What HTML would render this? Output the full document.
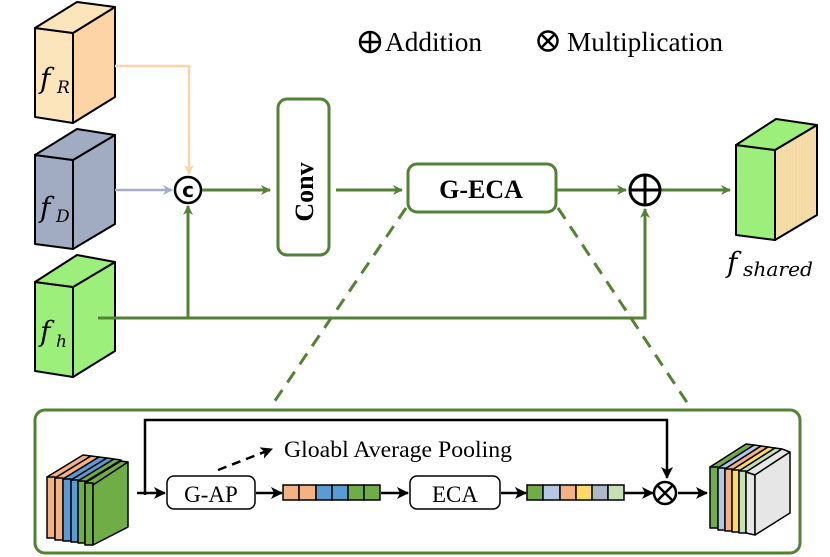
<!DOCTYPE html>
<html><head><meta charset="utf-8"><style>body{margin:0;background:#fff}svg{display:block}</style></head><body>
<svg width="830" height="557" viewBox="0 0 830 557" xmlns="http://www.w3.org/2000/svg">
<defs>
<marker id="ag" markerWidth="10" markerHeight="10" refX="9" refY="5" orient="auto" markerUnits="userSpaceOnUse"><path d="M0,0 L10,5 L0,10 L3,5z" fill="#548235"/></marker>
<marker id="ao" markerWidth="10" markerHeight="10" refX="9" refY="5" orient="auto" markerUnits="userSpaceOnUse"><path d="M0,0 L10,5 L0,10 L3,5z" fill="#fdd4a8"/></marker>
<marker id="ab" markerWidth="10" markerHeight="10" refX="9" refY="5" orient="auto" markerUnits="userSpaceOnUse"><path d="M0,0 L10,5 L0,10 L3,5z" fill="#a3afc6"/></marker>
<marker id="ak" markerWidth="12" markerHeight="12" refX="11" refY="6" orient="auto" markerUnits="userSpaceOnUse"><path d="M0,0 L12,6 L0,12 L3,6z" fill="#000"/></marker>
<pattern id="wood" width="6" height="6" patternUnits="userSpaceOnUse"><rect width="6" height="6" fill="#f7dfae"/><path d="M1,0V6M4,0V6" stroke="#efd39b" stroke-width="1"/></pattern>
</defs>
<g font-family="Liberation Serif, serif">
<!-- legend -->
<circle cx="370" cy="42" r="10" fill="none" stroke="#000" stroke-width="2.5"/><path d="M360,42H380M370,32V52" stroke="#000" stroke-width="2.5"/>
<text x="385" y="51" font-size="27" textLength="97" lengthAdjust="spacingAndGlyphs">Addition</text>
<circle cx="548" cy="41" r="9.5" fill="none" stroke="#000" stroke-width="2.5"/><path d="M541,34L555,48M555,34L541,48" stroke="#000" stroke-width="2.5"/>
<text x="567" y="51" font-size="27" textLength="156" lengthAdjust="spacingAndGlyphs">Multiplication</text>

<!-- cubes -->
<g stroke="#000" stroke-width="2" stroke-linejoin="round">
<path d="M35,28L73,33L73,123L35,117Z" fill="#fde5bb"/><path d="M73,33L115,7L115,97L73,123Z" fill="#fdd4a6"/><path d="M35,28L77,2L115,7L73,33Z" fill="#fde5bb"/>
<path d="M35,155L73,160L73,249L35,244Z" fill="#a1abc2"/><path d="M73,160L115,135L115,224L73,249Z" fill="#a1abc2"/><path d="M35,155L77,129L115,135L73,160Z" fill="#a1abc2"/>
<path d="M35,282L73,287L73,377L35,371Z" fill="#9cef7b"/><path d="M73,287L115,262L115,351L73,377Z" fill="#9cef7b"/><path d="M35,282L77,255L115,262L73,287Z" fill="#9cef7b"/>
<path d="M736,145L775,150L775,240L736,235Z" fill="#9cef7b"/><path d="M775,150L817,125L817,215L775,240Z" fill="url(#wood)"/><path d="M736,145L776,119L817,125L775,150Z" fill="#9cef7b"/>
</g>
<g font-style="italic" font-family="DejaVu Serif, serif">
<text x="40" y="88" font-size="28">f</text><text x="57" y="93" font-size="17">R</text>
<text x="40" y="217" font-size="28">f</text><text x="56" y="222" font-size="17">D</text>
<text x="40" y="341" font-size="28">f</text><text x="56" y="347" font-size="17">h</text>
<text x="727" y="272" font-size="28">f</text><text x="743" y="276" font-size="20" textLength="70" lengthAdjust="spacingAndGlyphs">shared</text>
</g>

<!-- top connectors -->
<path d="M115,66H189V174" fill="none" stroke="#fdd4a8" stroke-width="2.5" marker-end="url(#ao)"/>
<path d="M115,190H172" stroke="#a3afc6" stroke-width="2.5" marker-end="url(#ab)"/>
<circle cx="188" cy="190" r="13" fill="#fff" stroke="#000" stroke-width="2.5"/>
<text x="188" y="197" font-size="20" font-family="DejaVu Sans, sans-serif" font-weight="bold" text-anchor="middle">c</text>
<g stroke="#548235" stroke-width="3" fill="none">
<path d="M98,318H645V209" marker-end="url(#ag)"/>
<path d="M188,318V206" marker-end="url(#ag)"/>
<path d="M202,190H270" marker-end="url(#ag)"/>
<path d="M336,190H402" marker-end="url(#ag)"/>
<path d="M557,190H626" marker-end="url(#ag)"/>
<path d="M661,190H730" marker-end="url(#ag)"/>
<rect x="278" y="99" width="51" height="156" rx="9"/>
<rect x="408" y="164" width="148" height="48" rx="9"/>
<path d="M406,208L270,408" stroke-dasharray="13,9"/>
<path d="M558,208L692,410" stroke-dasharray="13,9"/>
<rect x="35" y="410" width="765" height="143" rx="10"/>
</g>
<circle cx="645" cy="190" r="15" fill="#fff" stroke="#000" stroke-width="3"/><path d="M630,190H660M645,175V205" stroke="#000" stroke-width="3"/>
<text x="0" y="0" font-size="26" font-weight="bold" text-anchor="middle" transform="translate(313 192) rotate(-90)">Conv</text>
<text x="481" y="198" font-size="26" font-weight="bold" text-anchor="middle">G-ECA</text>

<!-- input cube -->
<g stroke="#000" stroke-width="1.5" stroke-linejoin="round">
<path d="M47,477L83,455L91,456L55,478Z" fill="#f4b183"/><rect x="47" y="477" width="8" height="61" fill="#f4b183"/>
<path d="M55,478L91,456L99,457L63,479Z" fill="#f4b183"/><rect x="55" y="478" width="8" height="62" fill="#f4b183"/>
<path d="M63,479L99,457L107,458L71,480Z" fill="#5b9bd5"/><rect x="63" y="479" width="8" height="62" fill="#5b9bd5"/>
<path d="M71,480L107,458L114,459L78,481Z" fill="#5b9bd5"/><rect x="71" y="480" width="7" height="62" fill="#5b9bd5"/>
<path d="M78,481L114,459L121,460L85,482Z" fill="#70ad47"/><rect x="78" y="481" width="7" height="62" fill="#70ad47"/>
<path d="M85,483L121,461L128,462L93,485Z" fill="#70ad47"/><rect x="85" y="483" width="8" height="62" fill="#70ad47"/>
<path d="M93,485L128,462L128,527L93,545Z" fill="#70ad47"/>
</g>

<g stroke="#000" stroke-width="2.5" fill="none">
<path d="M145,495V420H667V478" marker-end="url(#ak)"/>
<path d="M137,493H165" marker-end="url(#ak)"/>
<path d="M256,493H282" marker-end="url(#ak)"/>
<path d="M381,493H408" marker-end="url(#ak)"/>
<path d="M501,493H526" marker-end="url(#ak)"/>
<path d="M624,493H653" marker-end="url(#ak)"/>
<path d="M678,493H707" marker-end="url(#ak)"/>
<path d="M218,470L272,449" stroke-dasharray="9,6" marker-end="url(#ak)"/>
</g>
<rect x="167" y="476" width="88" height="33" rx="7" fill="#fff" stroke="#000" stroke-width="1.5"/>
<text x="211" y="502" font-size="23" text-anchor="middle">G-AP</text>
<rect x="410" y="476" width="90" height="33" rx="7" fill="#fff" stroke="#000" stroke-width="1.5"/>
<text x="455" y="502" font-size="23" text-anchor="middle">ECA</text>
<text x="284" y="457" font-size="23" textLength="228" lengthAdjust="spacingAndGlyphs">Gloabl Average Pooling</text>
<g stroke="#000" stroke-width="1.5">
<rect x="283" y="485" width="16" height="15" fill="#f4b183"/><rect x="299" y="485" width="17" height="15" fill="#f4b183"/>
<rect x="316" y="485" width="16" height="15" fill="#5b9bd5"/><rect x="332" y="485" width="16" height="15" fill="#5b9bd5"/>
<rect x="348" y="485" width="16" height="15" fill="#70ad47"/><rect x="364" y="485" width="16" height="15" fill="#70ad47"/>
<rect x="527" y="485" width="16" height="15" fill="#70ad47"/><rect x="543" y="485" width="17" height="15" fill="#b4c7e7"/>
<rect x="560" y="485" width="16" height="15" fill="#f4b183"/><rect x="576" y="485" width="16" height="15" fill="#ffd966"/>
<rect x="592" y="485" width="16" height="15" fill="#adb9ca"/><rect x="608" y="485" width="16" height="15" fill="#c5e0b4"/>
</g>
<circle cx="665" cy="493" r="11" fill="#fff" stroke="#000" stroke-width="2.5"/><path d="M657,485L673,501M673,485L657,501" stroke="#000" stroke-width="2.5"/>
<!-- output cube -->
<g stroke="#000" stroke-width="1.5" stroke-linejoin="round">
<path d="M710,467L746,444L754,445L718,468Z" fill="#70ad47"/><rect x="710" y="467" width="8" height="61" fill="#70ad47"/>
<path d="M718,468L754,445L761,446L725,469Z" fill="#b4c7e7"/><rect x="718" y="468" width="7" height="62" fill="#b4c7e7"/>
<path d="M725,469L761,446L768,447L732,470Z" fill="#f4b183"/><rect x="725" y="469" width="7" height="62" fill="#f4b183"/>
<path d="M732,470L768,447L775,448L739,471Z" fill="#ffd966"/><rect x="732" y="470" width="7" height="62" fill="#ffd966"/>
<path d="M739,471L775,448L782,449L746,472Z" fill="#c5e0b4"/><rect x="739" y="471" width="7" height="62" fill="#c5e0b4"/>
<path d="M746,472L782,449L790,452L755,475Z" fill="#e6e6e6"/><path d="M746,472L755,475L755,535L746,533Z" fill="#e6e6e6"/>
<path d="M755,475L790,452L790,513L755,535Z" fill="#e6e6e6"/>
</g>
</g>
</svg>
</body></html>
